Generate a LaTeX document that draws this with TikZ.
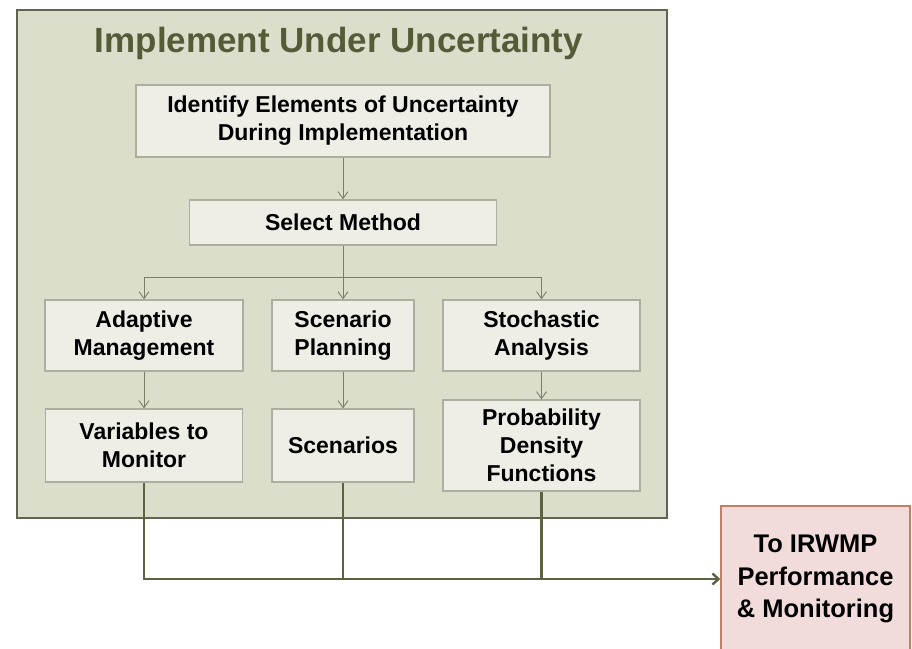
\documentclass[tikz,border=0pt]{standalone}
\usepackage{fontspec}
\setmainfont{Liberation Sans}
\usetikzlibrary{arrows.meta}
\definecolor{fondcadre}{RGB}{220,222,204}
\definecolor{traitcadre}{RGB}{96,100,78}
\definecolor{titre}{RGB}{86,91,55}
\definecolor{fondboite}{RGB}{238,238,231}
\definecolor{traitboite}{RGB}{172,174,158}
\definecolor{fleche}{RGB}{122,126,104}
\definecolor{sortie}{RGB}{92,98,66}
\definecolor{fondrose}{RGB}{242,220,219}
\definecolor{traitrose}{RGB}{192,128,100}
\begin{document}
\begin{tikzpicture}[x=1pt, y=-1pt,
		boite/.style	= {draw=traitboite, line width=1.3pt, fill=fondboite, align=center, inner sep=0pt,
							font=\bfseries\fontsize{23}{28}\selectfont},
		fin/.style		= {draw=traitrose, line width=1.5pt, fill=fondrose, align=center, inner sep=0pt,
							font=\bfseries\fontsize{25.5}{32.5}\selectfont},
		lien/.style		= {draw=fleche, line width=0.9pt, -{Straight Barb[length=7pt,width=10pt]}},
		lienfin/.style	= {draw=sortie, line width=2.4pt}]
				% Clip
				\clip 					(0,0)		rectangle	(912,648)	;
				\fill [white]			(0,0)		rectangle	(912,648)	;
				% Cadre
				\draw [fill=fondcadre, draw=traitcadre, line width=2pt]	(17,10)	rectangle	(667,518)	;
				\node [anchor=base, text=titre, font=\bfseries\fontsize{35}{40}\selectfont]
										(titre)	at (339,52)		{Implement Under Uncertainty}	;
				% Boites
				\node [boite, minimum width=414, minimum height=72]	(ident)	at (343,121)	{Identify Elements of Uncertainty\\During Implementation};
				\node [boite, minimum width=307, minimum height=45]	(select)	at (343,222.5)	{Select Method};
				\node [boite, minimum width=198, minimum height=71]	(adapt)	at (144,335.5)	{Adaptive\\Management};
				\node [boite, minimum width=142, minimum height=71]	(plan)	at (343,335.5)	{Scenario\\Planning};
				\node [boite, minimum width=197, minimum height=71]	(stoch)	at (541.5,335.5)	{Stochastic\\Analysis};
				\node [boite, minimum width=197, minimum height=73]	(vars)	at (144,445.5)	{Variables to\\Monitor};
				\node [boite, minimum width=142, minimum height=73]	(scen)	at (343,445.5)	{Scenarios};
				\node [boite, minimum width=197, minimum height=91]	(pdf)	at (541.5,445.5)	{Probability\\Density\\Functions};
				\node [fin, minimum width=189, minimum height=146]	(perf)	at (815.5,579)	{To IRWMP\\Performance\\\& Monitoring};
				% Fleches
				\coordinate (fourche) at (343,277) ;
				\draw [lien]	(ident)		--	(select)	;
				\draw [lien]	(select)	--	(plan)		;
				\draw [lien]	(fourche)	-|	(adapt)		;
				\draw [lien]	(fourche)	-|	(stoch)		;
				\draw [lien]	(adapt)		--	(vars)		;
				\draw [lien]	(plan)		--	(scen)		;
				\draw [lien]	(stoch)		--	(pdf)		;
				% Sortie
				\draw [lienfin, -{Straight Barb[length=6pt,width=11pt]}]	(vars.south)	|-	(perf.west)	;
				\draw [lienfin]	(scen.south)	--	(scen.south |- perf.west)	;
				\draw [lienfin]	(pdf.south)		--	(pdf.south |- perf.west)	;
\end{tikzpicture}
\end{document}
